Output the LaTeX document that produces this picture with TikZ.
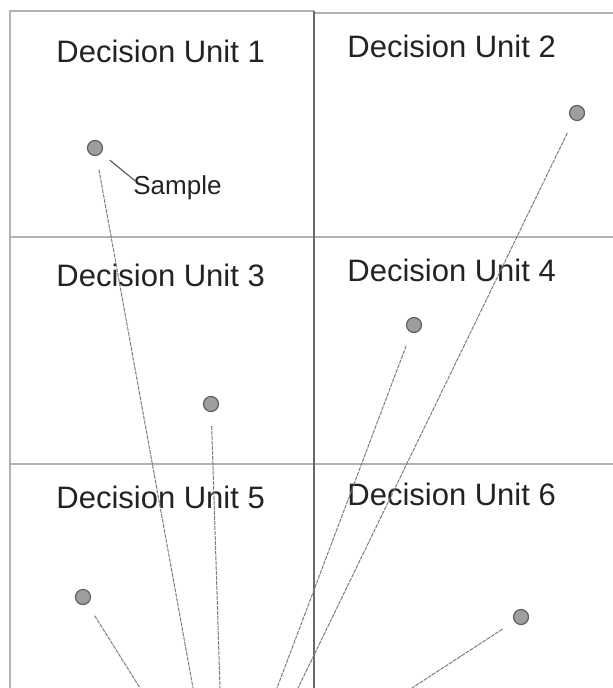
\documentclass[tikz,border=0pt]{standalone}
\usepackage{fontspec}
\setmainfont{Liberation Sans}
\definecolor{du_grid}{RGB}{178,178,178}
\definecolor{du_divider}{RGB}{105,105,105}
\definecolor{du_link}{RGB}{125,125,125}
\definecolor{du_dot}{RGB}{158,158,158}
\definecolor{du_rim}{RGB}{95,95,95}
\definecolor{du_text}{RGB}{35,35,35}

\begin{document}
\begin{tikzpicture}[x=0.5pt,y=-0.5pt]
    % Define styles
    \tikzset{
        unitlabel/.style={anchor=base west,inner sep=0pt,text=du_text,font=\fontsize{15.5}{18}\selectfont},
        sample/.style={circle,draw=du_rim,fill=du_dot,line width=0.6pt,minimum size=7.5pt,inner sep=0pt},
        link/.style={draw=du_link,line width=0.5pt,dash pattern=on 2pt off 0.5pt,shorten <=7pt},
        grid/.style={draw=du_grid,line width=1pt},
    }

    \useasboundingbox (0,0) rectangle (613,688);

    % Grid of decision units
    \draw[grid] (10,688) -- (10,11) -- (314,11);
    \draw[grid] (314,13) -- (613,13);
    \draw[grid] (10,237.5) -- (613,237.5);
    \draw[grid] (10,464) -- (613,464);
    \draw[draw=du_divider,line width=0.6pt] (314,11) -- (314,688);

    % Unit titles
    \foreach \n/\x/\y in {1/56/63, 2/347/58, 3/56/287, 4/347/282, 5/56/508, 6/347/505}
    {
        \node[unitlabel] (u\n) at (\x,\y) {Decision Unit \n};
    }

    % Samples and their free ends at the bottom edge
    \foreach \n/\x/\y/\ex in {1/95/148/193, 2/577/113/298, 3/211/404/220, 4/414/325/277, 5/83/597/140, 6/521/617/412}
    {
        \node[sample] (s\n) at (\x,\y) {};
        \coordinate (e\n) at (\ex,688);
        \draw[link] (s\n) -- (e\n);
    }

    % Sample label
    \node[anchor=base west,inner sep=0pt,text=du_text,font=\fontsize{13}{15}\selectfont] (lbl) at (133,195) {Sample};
    \draw[draw=du_rim,line width=0.6pt,shorten <=5.5pt] (s1) -- ([shift={(2,5)}]lbl.north west);
\end{tikzpicture}
\end{document}
